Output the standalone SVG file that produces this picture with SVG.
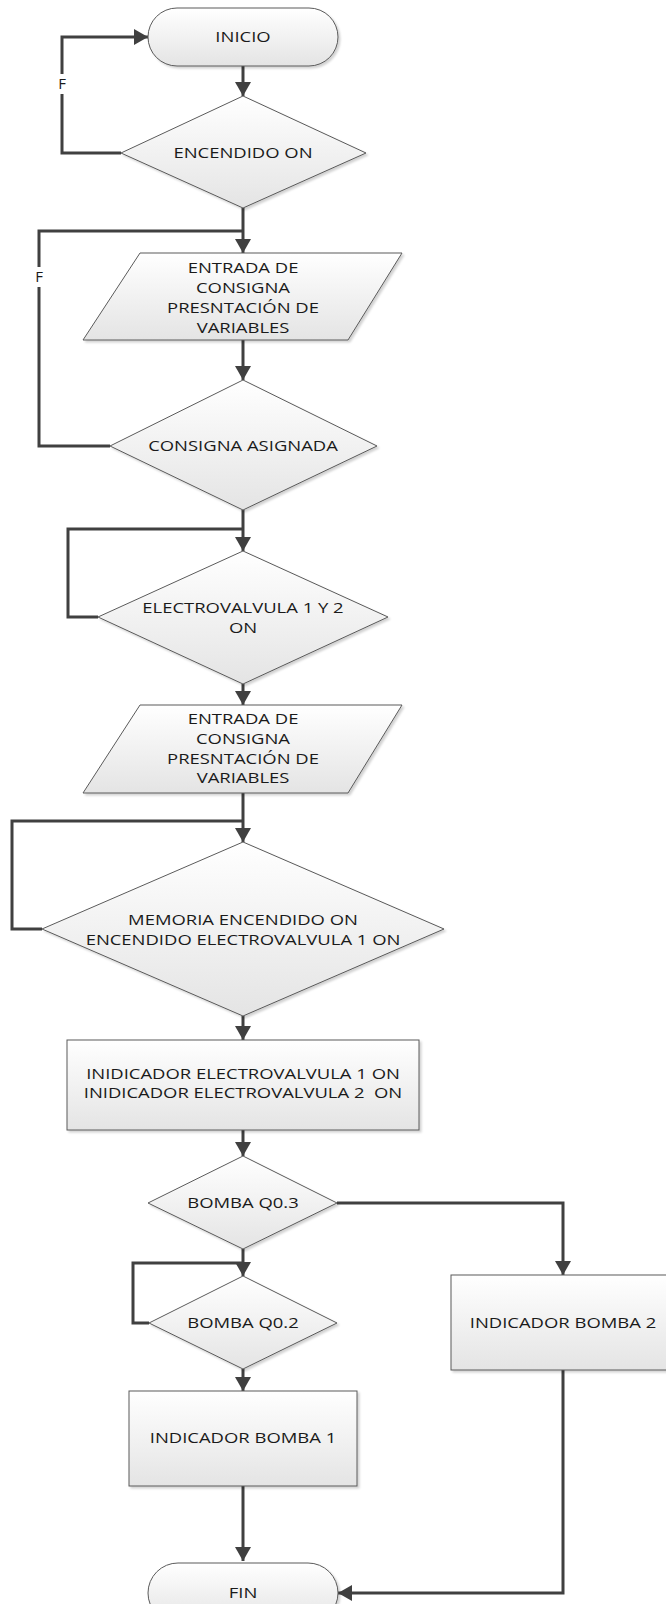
<svg xmlns="http://www.w3.org/2000/svg" width="666" height="1604" viewBox="0 0 666 1604">
<style>
.s{fill:url(#g);stroke:#5a5a5a;stroke-width:1;filter:url(#sh)}
.c{fill:none;stroke:#404040;stroke-width:3}
.a{marker-end:url(#m)}
.t{font-family:"Open Sans","DejaVu Sans",sans-serif;font-size:15px;fill:#1a1a1a;text-anchor:middle}
</style>
<defs>
<linearGradient id="g" x1="0" y1="0" x2="0" y2="1">
<stop offset="0" stop-color="#ffffff"/>
<stop offset="1" stop-color="#e4e4e4"/>
</linearGradient>
<filter id="sh" x="-5%" y="-5%" width="115%" height="120%">
<feDropShadow dx="2" dy="2" stdDeviation="1" flood-color="#000" flood-opacity="0.18"/>
</filter>
<marker id="m" viewBox="0 0 14 16" refX="14" refY="8" markerWidth="14" markerHeight="16" markerUnits="userSpaceOnUse" orient="auto">
<path d="M0,0 L14,8 L0,16 z" fill="#404040"/>
</marker>
</defs>
<rect width="666" height="1604" fill="#fff"/>

<g id="connectors">
<path class="c a" d="M243,66 V96"/>
<path class="c a" d="M121,153 H62 V37 H148"/>
<path class="c a" d="M243,208 V253"/>
<path class="c" d="M110,446 H39 V231 H243"/>
<path class="c a" d="M243,340 V380"/>
<path class="c a" d="M243,510 V551"/>
<path class="c" d="M98,617 H68 V529 H243"/>
<path class="c a" d="M243,684 V705"/>
<path class="c a" d="M243,793 V842"/>
<path class="c" d="M42,929 H12 V821 H243"/>
<path class="c a" d="M243,1016 V1040"/>
<path class="c a" d="M243,1130 V1156"/>
<path class="c a" d="M243,1249 V1276"/>
<path class="c" d="M149,1323 H133 V1263 H243"/>
<path class="c a" d="M337,1203 H563 V1275"/>
<path class="c a" d="M243,1369 V1391"/>
<path class="c a" d="M243,1486 V1561"/>
<path class="c a" d="M563,1370 V1593 H338"/>
<rect x="55" y="74" width="14" height="20" fill="#fff"/>
<text class="t" x="62" y="89">F</text>
<rect x="32" y="267" width="14" height="20" fill="#fff"/>
<text class="t" x="39" y="282">F</text>
</g>

<g id="inicio">
<rect class="s" x="148" y="8" width="190" height="58" rx="29"/>
<text class="t" transform="translate(243 0) scale(1.23 1)"><tspan x="0" y="42">INICIO</tspan></text>
</g>

<g id="encendido">
<polygon class="s" points="243,96 366,153 243,208 121,153"/>
<text class="t" transform="translate(243 0) scale(1.23 1)"><tspan x="0" y="158">ENCENDIDO ON</tspan></text>
</g>

<g id="entrada1">
<polygon class="s" points="140,253 402,253 348,340 83,340"/>
<text class="t" transform="translate(243 0) scale(1.23 1)"><tspan x="0" y="273">ENTRADA DE</tspan><tspan x="0" y="293">CONSIGNA</tspan><tspan x="0" y="313">PRESNTACIÓN DE</tspan><tspan x="0" y="333">VARIABLES</tspan></text>
</g>

<g id="consigna">
<polygon class="s" points="243,380 377,446 243,510 110,446"/>
<text class="t" transform="translate(243 0) scale(1.23 1)"><tspan x="0" y="451">CONSIGNA ASIGNADA</tspan></text>
</g>

<g id="electrovalvula">
<polygon class="s" points="243,551 388,617 243,684 98,617"/>
<text class="t" transform="translate(243 0) scale(1.23 1)"><tspan x="0" y="613">ELECTROVALVULA 1 Y 2</tspan><tspan x="0" y="633">ON</tspan></text>
</g>

<g id="entrada2">
<polygon class="s" points="140,705 402,705 348,793 83,793"/>
<text class="t" transform="translate(243 0) scale(1.23 1)"><tspan x="0" y="724">ENTRADA DE</tspan><tspan x="0" y="744">CONSIGNA</tspan><tspan x="0" y="764">PRESNTACIÓN DE</tspan><tspan x="0" y="783">VARIABLES</tspan></text>
</g>

<g id="memoria">
<polygon class="s" points="243,842 444,929 243,1016 42,929"/>
<text class="t" transform="translate(243 0) scale(1.23 1)"><tspan x="0" y="925">MEMORIA ENCENDIDO ON</tspan><tspan x="0" y="945">ENCENDIDO ELECTROVALVULA 1 ON</tspan></text>
</g>

<g id="indicador_ev">
<rect class="s" x="67" y="1040" width="352" height="90"/>
<text class="t" transform="translate(243 0) scale(1.23 1)"><tspan x="0" y="1079">INIDICADOR ELECTROVALVULA 1 ON</tspan><tspan x="0" y="1098">INIDICADOR ELECTROVALVULA 2&#160; ON</tspan></text>
</g>

<g id="bomba_q03">
<polygon class="s" points="243,1156 337,1203 243,1249 148,1203"/>
<text class="t" transform="translate(243 0) scale(1.23 1)"><tspan x="0" y="1208">BOMBA Q0.3</tspan></text>
</g>

<g id="bomba_q02">
<polygon class="s" points="243,1276 337,1323 243,1369 149,1323"/>
<text class="t" transform="translate(243 0) scale(1.23 1)"><tspan x="0" y="1328">BOMBA Q0.2</tspan></text>
</g>

<g id="indicador_b2">
<rect class="s" x="451" y="1275" width="225" height="95"/>
<text class="t" transform="translate(563 0) scale(1.23 1)"><tspan x="0" y="1328">INDICADOR BOMBA 2</tspan></text>
</g>

<g id="indicador_b1">
<rect class="s" x="129" y="1391" width="228" height="95"/>
<text class="t" transform="translate(243 0) scale(1.23 1)"><tspan x="0" y="1443">INDICADOR BOMBA 1</tspan></text>
</g>

<g id="fin">
<rect class="s" x="148" y="1563" width="190" height="60" rx="30"/>
<text class="t" transform="translate(243 0) scale(1.23 1)"><tspan x="0" y="1598">FIN</tspan></text>
</g>
</svg>
